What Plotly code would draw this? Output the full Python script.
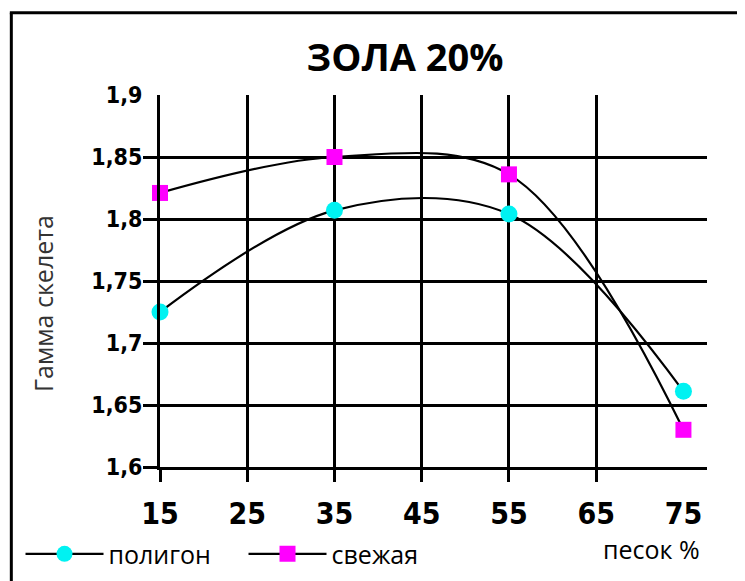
import plotly.graph_objects as go

sand = [15, 35, 55, 75]
poligon = [1.725, 1.807, 1.804, 1.661]
svezhaya = [1.821, 1.850, 1.836, 1.630]

x_grid_ticks = [15, 25, 35, 45, 55, 65]
x_label_ticks = [15, 25, 35, 45, 55, 65, 75]
y_grid_ticks = [1.60, 1.65, 1.70, 1.75, 1.80, 1.85]
y_label_ticks = [1.60, 1.65, 1.70, 1.75, 1.80, 1.85, 1.90]
y_label_text = ["1,6", "1,65", "1,7", "1,75", "1,8", "1,85", "1,9"]

title_text = "ЗОЛА 20%"
y_title = "Гамма скелета"
x_title = "песок %"

XR = [15, 77.7]
YR = [1.6, 1.9]

bold_font = "Liberation Sans Narrow, DejaVu Sans Condensed, Arial Narrow, sans-serif"
reg_font = "Open Sans, Noto Sans, sans-serif"

fig = go.Figure()
fig.add_trace(go.Scatter(
    x=sand, y=poligon, name="полигон", mode="lines+markers",
    line=dict(color="black", width=2.2, shape="spline", smoothing=1),
    marker=dict(symbol="circle", size=17, color="#00F2F2"),
    cliponaxis=False, xaxis="x", yaxis="y"))
fig.add_trace(go.Scatter(
    x=sand, y=svezhaya, name="свежая", mode="lines+markers",
    line=dict(color="black", width=2.2, shape="spline", smoothing=1),
    marker=dict(symbol="square", size=16, color="#FF00FF"),
    cliponaxis=False, xaxis="x2", yaxis="y2"))

grid_axis = dict(showgrid=True, gridcolor="black", gridwidth=2.6,
                 ticks="outside", tickcolor="black", tickwidth=2.6,
                 showticklabels=False, showline=True, linecolor="black",
                 linewidth=2.6, zeroline=False)

fig.update_layout(
    width=745, height=581,
    margin=dict(l=149, r=46, t=87, b=119),
    paper_bgcolor="white", plot_bgcolor="white",
    title=dict(text=title_text, x=0.533, xanchor="center", y=0.914, yanchor="middle",
               font=dict(family="Open Sans, sans-serif", size=38, color="black", weight="bold")),
    xaxis=dict(range=XR, tickvals=x_grid_ticks, ticklen=12, **grid_axis),
    yaxis=dict(range=YR, tickvals=y_grid_ticks, ticklen=14, **grid_axis),
    xaxis2=dict(range=XR, overlaying="x", anchor="y2", side="bottom",
                tickvals=x_label_ticks, ticktext=[str(v) for v in x_label_ticks],
                ticks="outside", tickcolor="rgba(0,0,0,0)", ticklen=20,
                showgrid=False, showline=False, zeroline=False,
                tickfont=dict(family=bold_font, size=30, color="black", weight="bold")),
    yaxis2=dict(range=YR, overlaying="y", anchor="x2", side="left",
                tickvals=y_label_ticks, ticktext=y_label_text,
                ticks="outside", tickcolor="rgba(0,0,0,0)", ticklen=12,
                showgrid=False, showline=False, zeroline=False,
                tickfont=dict(family=bold_font, size=23, color="black", weight="bold")),
    legend=dict(orientation="h", x=-0.255, xanchor="left", y=-0.234, yanchor="middle",
                font=dict(family=reg_font, size=25, color="black"),
                itemwidth=78, entrywidth=130, bgcolor="rgba(0,0,0,0)", traceorder="normal"),
    showlegend=True,
)

fig.add_annotation(text=y_title, xref="paper", yref="paper", x=-0.2127, y=0.44,
                   xanchor="center", yanchor="middle", textangle=-90, showarrow=False,
                   font=dict(family=reg_font, size=25, color="#333333"))
fig.add_annotation(text=x_title, xref="paper", yref="paper", x=0.99, y=-0.221,
                   xanchor="right", yanchor="middle", showarrow=False,
                   font=dict(family=reg_font, size=25, color="black"))

# outer frame
fig.add_shape(type="line", xref="paper", yref="paper", x0=-0.2745, x1=1.1, y0=1.2213, y1=1.2213,
              line=dict(color="black", width=3))
fig.add_shape(type="line", xref="paper", yref="paper", x0=-0.2718, x1=-0.2718, y0=1.2213, y1=-0.35,
              line=dict(color="black", width=3))

fig.write_html("out.html")
